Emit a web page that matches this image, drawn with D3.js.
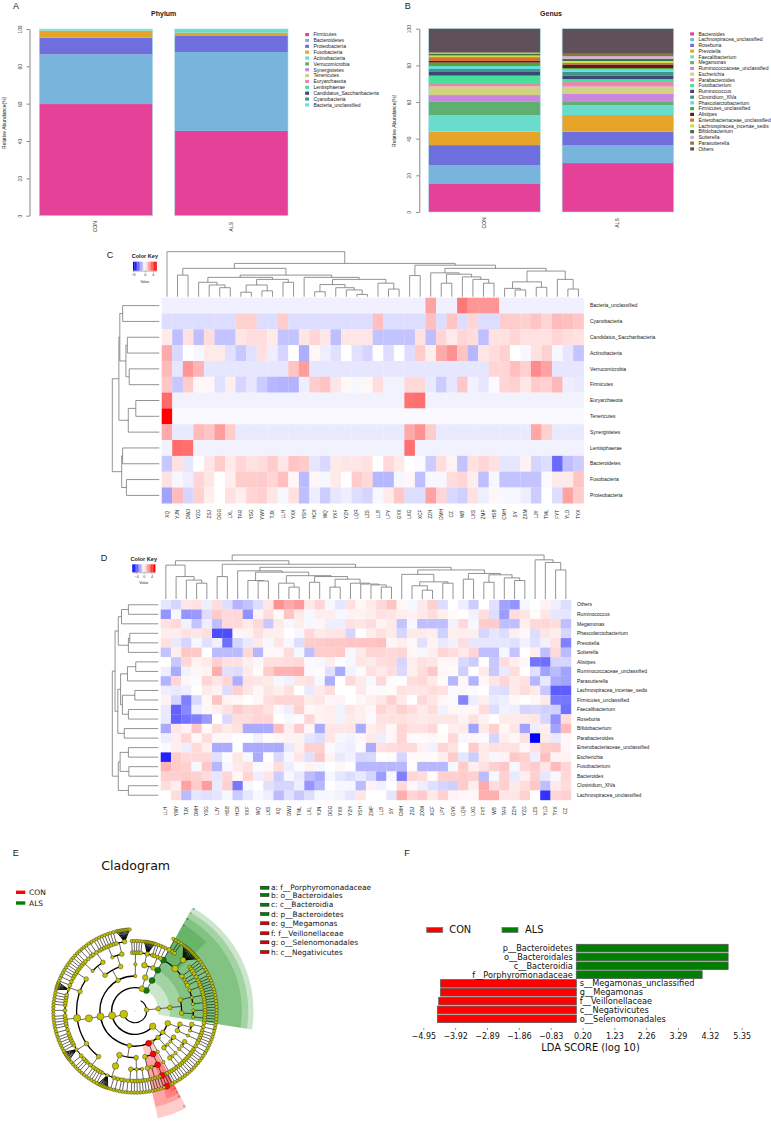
<!DOCTYPE html>
<html>
<head>
  <meta charset="UTF-8">
  <style>
    body { margin: 0; background: #fff; }
    svg { display: block; }
    text { font-family: "Liberation Sans", Arial, sans-serif; fill: #222; }
    .dv text, text.dv { font-family: "DejaVu Sans", sans-serif; fill: #111; }
  </style>
</head>
<body>
<div id="chart"></div>
<script src="https://d3js.org/d3.v7.min.js"></script>
<script>

// ---------- panels A and B: stacked bars ----------
const groups = ["CON", "ALS"];
const phyla = ["Firmicutes", "Bacteroidetes", "Proteobacteria", "Fusobacteria", "Actinobacteria", "Verrucomicrobia", "Synergistetes", "Tenericutes", "Euryarchaeota", "Lentisphaerae", "Candidatus_Saccharibacteria", "Cyanobacteria", "Bacteria_unclassified"];
const phylumCON = [59.8, 26.6, 9.0, 3.7, 0.7, 0.03, 0.03, 0.02, 0.02, 0.02, 0.02, 0.02, 0.04];
const phylumALS = [45.4, 42.3, 8.9, 1.4, 1.9, 0.02, 0.01, 0.01, 0.01, 0.01, 0.02, 0.02, 0.01];
const genera = ["Bacteroides", "Lachnospiracea_unclassified", "Roseburia", "Prevotella", "Faecalibacterium", "Megamonas", "Ruminococcaceae_unclassified", "Escherichia", "Parabacteroides", "Fusobacterium", "Ruminococcus", "Clostridium_XlVa", "Phascolarctobacterium", "Firmicutes_unclassified", "Alistipes", "Enterobacteriaceae_unclassified", "Lachnospiracea_incertae_sedis", "Bifidobacterium", "Sutterella", "Parasutterella", "Others"];
const genusCON = [15.3, 10.3, 10.9, 7.3, 8.9, 7.7, 3.4, 4.7, 1.9, 4.0, 2.0, 1.6, 1.6, 1.9, 0.9, 2.1, 0.9, 0.8, 0.4, 0.5, 13.0];
const genusALS = [26.7, 9.8, 7.3, 9.1, 5.3, 1.8, 4.4, 4.0, 2.5, 1.6, 2.0, 2.0, 1.3, 0.7, 2.0, 0.8, 1.1, 1.2, 1.4, 1.3, 13.7];
const stackColors = ["#e64199", "#78b4dc", "#6e6edc", "#e6a528", "#69dccd", "#5faf73", "#c887dc", "#d2d282", "#e687af", "#46e196", "#3c4678", "#419682", "#5fdce6"];
const genusColors = ["#e64199", "#78b4dc", "#6e6edc", "#e6a528", "#69dccd", "#5faf73", "#c887dc", "#d2d282", "#e687af", "#46e196", "#3c4678", "#419682", "#5fdce6", "#55a532", "#5a1e14", "#dc6e32", "#d2dc46", "#37733c", "#d2afe6", "#8c7832", "#5f505a"];
const abundanceTicks = [0, 20, 40, 60, 80, 100];

// ---------- panels C and D: heatmaps ----------
const colsC = ["XQ", "YJN", "DWJ", "YZG", "ZSJ", "DGG", "LXL", "TAR", "YSG", "YWY", "TJX", "LLH", "YXX", "YSH", "HCX", "WQ", "YXF", "YZH", "LQR", "LZS", "LLB", "LPY", "GYX", "LXG", "XCF", "ZZH", "DMH", "CZ", "WB", "LXS", "ZMP", "HSB", "CMH", "SY", "ZXM", "LJY", "TML", "FYT", "YLD", "TYX"];
const rowsC = ["Bacteria_unclassified", "Cyanobacteria", "Candidatus_Saccharibacteria", "Actinobacteria", "Verrucomicrobia", "Firmicutes", "Euryarchaeota", "Tenericutes", "Synergistetes", "Lentisphaerae", "Bacteroidetes", "Fusobacteria", "Proteobacteria"];
const heatC = [
  [-.35,-.35,-.35,-.35,-.35,-.35,-.35,-.35,-.35,-.35,-.35,-.35,-.35,-.35,-.35,-.35,-.35,-.35,-.35,-.35,-.35,-.35,-.35,-.35,-.35,2.2,-.35,-.35,3.2,2.5,2.5,2.5,-.35,-.35,-.35,-.35,-.35,-.35,-.35,-.35],
  [-.8,-.8,-.8,-.8,-.8,-.8,-.8,1.1,1.1,-.8,-.8,1.2,-.8,-.8,-.8,-.8,-.8,-.8,-.8,-.8,1.5,-.8,-.8,-.8,-.8,1.5,-.8,1.4,-.8,1,-.8,-.8,1.2,1.2,1.1,1.4,1,1.6,1.5,1.3],
  [.5,-1.5,.7,-1.5,.8,-1.4,-1.4,.6,.8,.8,.5,-1.4,-1.4,.6,1,.6,-1.5,.6,.6,.6,-1.4,-1.4,-1.4,-1.4,.7,-1.5,1,.5,1,.8,-1.5,.7,.7,1,.7,.7,.7,1,.8,.7],
  [2,-.9,0,-.2,.5,.5,-.7,-1.3,-.7,.7,-.4,-1,0,-1.9,.2,-.4,-.7,0,-.7,-1,0,-.8,0,-.8,1.2,.4,2,2.6,1.4,-1.7,.6,.8,1.1,0,-.2,.7,1.1,-.2,-.6,-1.4],
  [1.6,-.6,2.5,1.8,-.6,-.6,-.6,-.6,-.6,-.6,-.6,-.6,1.4,2.3,-.6,-.6,-.6,-.6,-.6,-.6,-.6,-.6,-.6,-.6,-.6,-.6,-.6,-.6,-.6,-.6,-.6,1,1,1.5,1.1,2.7,2.2,-.6,-.6,-.6],
  [1.3,-1.3,1.2,.2,.2,-.7,.4,-1,-.6,-1.2,-1.7,-1.8,-1.8,-.4,1.2,1.4,.6,.2,-.2,.2,.8,-.3,-.3,.9,.9,-.5,-1.2,-.6,1.3,-.3,-.6,-.1,1,1.1,.6,1.2,1.1,1.7,-.4,-.5],
  [3.5,-.3,-.3,-.3,-.3,-.3,-.3,-.3,-.3,-.3,-.3,-.3,-.3,-.3,-.3,-.3,-.3,-.3,-.3,-.3,-.3,-.3,-.3,3.3,3.4,-.3,-.3,-.3,-.3,-.3,-.3,-.3,-.3,-.3,-.3,-.3,-.3,-.3,-.3,-.3],
  [6,-.15,-.15,-.15,-.15,-.15,-.15,-.15,-.15,-.15,-.15,-.15,-.15,-.15,-.15,-.15,-.15,-.15,-.15,-.15,-.15,-.15,-.15,-.15,-.15,-.15,-.15,-.15,-.15,-.15,-.15,-.15,-.15,-.15,-.15,-.15,-.15,-.15,-.15,-.15],
  [2,-.5,-.5,1.6,1.4,2.3,1.2,-.5,-.5,-.5,-.5,-.5,-.5,-.5,-.5,-.5,-.5,-.5,-.5,-.5,-.5,-.5,-.5,2,2.6,1.2,-.5,-.5,-.5,-.5,-.5,-.5,-.5,-.5,-.5,2.1,1.1,-.5,-.5,-.5],
  [-.3,3.5,3.4,-.3,-.3,-.3,-.3,-.3,-.3,-.3,-.3,-.3,-.3,-.3,-.3,-.3,-.3,-.3,-.3,-.3,-.3,-.3,-.3,3.4,-.3,-.3,-.3,-.3,-.3,-.3,-.3,-.3,-.3,-.3,-.3,-.3,-.3,-.3,-.3,-.3],
  [-1.3,.7,-.6,0,.6,1.2,.5,1,.7,.8,1.2,.6,1.4,1.2,-.6,-.9,.5,.6,.6,.7,0,.9,.5,0,-.1,-1.2,.8,.3,-1.4,.7,1,.7,-.6,-.6,.3,-1,-.8,-3.5,-1.5,-1.2],
  [.7,-.2,-.4,1,.6,0,.4,1.2,1.2,1.2,1,1.5,.2,-1.6,.2,-.2,.5,0,1.2,.9,-1.7,-1.7,-.2,.2,-1.5,-.2,-.2,.8,1,.4,-1.5,-.2,-1.4,-1.4,-1.4,-1.4,-.1,.5,.5,1.4],
  [-2.2,1.6,-1,1.1,.4,0,.7,.4,1,1.1,.6,-.2,.7,-1.5,-.4,-1.2,-.6,-.4,-.8,-1,-.2,.5,1.3,-.8,-.8,2.2,1,-.9,-1.1,.7,-.4,.2,-.2,-.2,-.4,-1.2,0,-.8,2.2,1.2]
];
// dendrograms: [merge height, left, right], leaves are column names or row indexes
const topTreeC = [100, "XQ", [74,
  [63, [48, "YJN", "DWJ"], [48,
    [43, [32, "YZG", [26, "ZSJ", [20, "DGG", "LXL"]]], [38.5, [26, [10, "TAR", "YSG"], [13, "YWY", "TJX"]], [32, "LLH", "YXX"]]],
    [43, "YSH", [38.5, [27, [11, "HCX", "WQ"], [20, "YXF", [15, "YZH", [5, "LQR", "LZS"]]]], [30, "LLB", [17, "LPY", "GYX"]]]]]],
  [70, [47, "LXG", "XCF"], [63,
    [53, "ZZH", [50, [30, "DMH", "CZ"], [44, "WB", [38.5, "LXS", [30, "ZMP", "HSB"]]]]],
    [57, [33, [18.5, "CMH", [15, "SY", "ZXM"]], [21, "LJY", "TML"]], [38.5, "FYT", [17, "YLD", "TYX"]]]]]]];
const sideTreeC = [100, [86, [84, [78, 0, 1], [71, [68, 2, 3], [64, 4, 5]]], [66, [50, 6, 7], 8]], [80, [78, 9, 10], [70, 11, 12]]];
const keyTicksC = [-6, 0, 4];

const colsD = ["LLH", "YWY", "TJX", "DMH", "YSG", "LJY", "HSB", "HCX", "YXF", "WQ", "LXS", "XQ", "DWJ", "TML", "LXL", "YJN", "DGG", "YXX", "YZH", "YSH", "ZMP", "LLB", "SY", "CMH", "ZSJ", "ZXM", "XCF", "LPY", "GYX", "LQR", "LXG", "FYT", "WB", "TAR", "ZZH", "YZG", "LZS", "YLD", "TYX", "CZ"];
const rowsD = ["Others", "Ruminococcus", "Megamonas", "Phascolarctobacterium", "Prevotella", "Sutterella", "Alistipes", "Ruminococcaceae_unclassified", "Parasutterella", "Lachnospiracea_incertae_sedis", "Firmicutes_unclassified", "Faecalibacterium", "Roseburia", "Bifidobacterium", "Parabacteroides", "Enterobacteriaceae_unclassified", "Escherichia", "Fusobacterium", "Bacteroides", "Clostridium_XlVa", "Lachnospiracea_unclassified"];
const heatD = [
  [-.6,-1,.6,.7,-.4,.8,-.8,-1.8,-1.4,-.8,.6,2.6,2,2.4,.5,1,-.2,-.6,.7,.2,.5,.9,1.4,.2,-.2,.5,1.1,-.8,0,-.4,-1.2,0,-.7,-2.2,-2.5,-.2,0,.3,-.4,-.8],
  [-2.5,-.2,-2.5,-2.4,-.8,1.2,.9,.9,-2.6,.3,.8,.1,1.4,.5,-.2,.4,.4,-.2,.3,.3,.4,.7,.6,.4,.3,.5,.8,.4,.1,0,-.3,.8,-.8,-2.3,.8,.6,.1,.6,-.6,-.6],
  [.7,.9,-.3,-1.4,-.4,-1.5,.9,.9,.5,.9,-1.3,.5,-.2,.4,-.2,.2,-.4,-.4,.7,.6,.8,.3,.5,-1.4,-.2,-1.5,-1.5,-1.5,-.3,.9,-.2,1.2,1.2,-1.5,-1.5,.4,.9,1,.8,-1.5],
  [.4,.4,.7,.6,.8,-4.2,-4.2,.2,.3,.7,.4,.4,0,-.2,.9,.5,.6,.6,-1,0,.4,.7,.5,-1,.5,.5,.4,-1.1,.4,.4,.4,-1,-.6,-.8,.4,.2,-.8,.6,.4,-1],
  [.7,-.5,-1,-.2,-.7,-.3,-3.4,-1,-.5,.5,-.2,.6,-.2,-.8,1.2,1.2,1.3,1.3,1.4,1.4,1.4,1.5,.2,.4,.2,-.7,.3,-.5,-.3,.8,-.6,-.6,-.6,-.6,-.7,-.3,-.7,-.3,.7,-3],
  [-1.4,.4,1.3,1.3,0,-1.6,-1.6,-1.6,.9,-1.7,.2,.2,.8,-.2,-1.5,1.2,1.2,1.3,-.2,.5,1,1,.9,1,.2,-.2,.4,1,.8,.5,1,-1.5,-1.5,-.2,-1.4,0,.4,-1.5,.9,-1.6],
  [0,-1.3,1,.3,.5,1.1,.7,.7,.4,.2,.7,.7,.8,.9,-.1,-.2,.4,0,-.2,.6,.5,.8,.9,-1,.4,.7,.6,.2,.2,-.9,-1.2,0,-1.3,.8,.4,.2,-3.3,-3.4,-1,-1],
  [-.4,-2,-.3,.2,.3,1.9,-.7,-.8,.5,.1,1.2,1.8,1.8,1.9,-.1,.1,-.7,-2,-.3,-.1,.7,.5,.8,-.9,.4,.8,1.3,.2,.1,-1.1,0,.5,-1.3,-.5,.8,0,-.7,-2.2,-1.6,-2.2],
  [-1.8,1,.2,-.1,1,.6,1,-1.9,.7,.6,.5,-.2,-.3,.6,.7,-.2,-1.9,0,.9,.5,-.2,.9,.1,0,.8,.9,.5,.1,-1.7,.2,-1.8,.2,.6,1,.5,.7,-1.7,-.5,-2,-2.2],
  [-.4,-.5,-.4,0,.5,.3,-.8,1.1,.6,.2,.6,.4,.7,0,-.5,.5,.8,0,0,.5,.1,-.1,.1,.7,.6,.6,.8,.7,-.1,.2,-.1,0,-.7,-.8,.5,.8,.5,-1.3,-3.8,-3.8],
  [.3,-1,-3,-.9,.2,1.4,.3,.2,0,.2,.8,1,1,1,.5,.6,.2,.3,0,.2,.4,.6,1.1,.5,0,.9,.6,.2,-.1,-2.9,-.4,.4,-.5,-.4,.2,0,.2,.5,-3.2,-3.2],
  [-.5,-3.7,-2.8,-.4,.2,.4,.7,1.2,.9,1,.7,.2,-.4,1.1,.2,.3,.4,-.3,.6,.4,.2,1,.7,1.1,.8,.5,.8,-.3,.2,.2,.2,.8,-.8,-.3,-.4,-1,-.9,-1.1,-1.1,-3.4],
  [-.5,-3.7,-3.3,-3,-2.4,0,-.9,.8,.8,1,1,0,-.2,-.1,1,.3,.4,-.3,.5,.4,-.1,.7,.7,.7,.6,.5,.6,.6,.6,.3,.7,.3,0,.5,.5,.5,.6,-1,-2.6,.8],
  [-2,.6,.3,1.3,.1,.8,.5,.7,-2,-2,-2,1.5,.4,1.2,.2,-2,.6,.6,.6,-2,.4,.6,.2,1,.7,.7,.9,0,.4,.5,-2.2,.5,1.1,.2,.6,-2.2,-.4,.4,-2.2,1.6],
  [-.4,.4,1,.2,.8,.2,.2,0,0,-.3,.1,.2,.3,.3,-.6,-.8,.6,-.2,-.3,.2,.5,-.4,.2,1,.1,.1,.2,.1,.9,-.2,.2,-.1,-1,.4,.2,.7,-6,.5,-.5,.2],
  [-.1,.4,-.4,.9,.4,-2,-2,0,-2,-2,-2,-2,-.5,.4,1.1,1.1,-.1,-.3,-.4,-.1,-2,.7,.8,.9,.9,.3,-.3,1,.7,0,1.2,.5,.7,.7,.7,.2,.7,1.2,1.3,.2],
  [-5.2,1.2,.9,.9,.9,-.7,.1,.6,-.2,-2,0,-.9,-.2,.6,-.7,1.3,.3,-.5,-.3,-1,-.9,0,.1,-1,.1,.1,.1,.4,1.2,-.6,-1.2,.5,-.2,.3,1.3,1.1,-.4,1.5,.3,.3],
  [1.8,1.2,1.1,-.2,1.3,-1.7,-.2,.5,.7,-.1,.2,.8,-.4,-.1,.3,-.2,0,.2,0,-1.7,-1.7,-1.7,-1.7,-1.7,.1,-1.7,-1.7,-1.7,-.2,1.2,.4,.7,1.1,1.3,-.2,1,1.2,.6,1.6,1],
  [1.1,1.1,1.2,1.1,.8,-.6,1,.2,1,-.4,.6,-1.2,-.2,-.5,-1.6,-2,-.2,-.6,-.8,-.5,-1,-2.3,-.2,-3,1,.8,.1,1.1,1.1,1.2,1.1,-1.6,-.2,1.1,-.5,.4,1.1,-.6,-.2,.9],
  [.8,.4,2.2,1.2,2.3,-.5,1.1,-3.2,-.2,0,-.7,-1,-1,-.4,-2.5,-1.7,0,-.2,-.2,-1.6,.3,-.3,0,.9,.2,-.4,-.7,-1,-1.1,1.2,.4,2,.8,1.1,.5,.8,1.3,-1.5,.5,.8],
  [0,.8,-1.6,-.6,-.7,-.6,-.2,-1.2,-.6,-.2,-.4,-1.6,-.7,-1.3,-.8,-.2,-.2,-.3,-.6,.6,0,0,-.6,1.9,1,1.2,.5,1.1,.3,.2,.2,1.9,1.9,.6,.6,1.1,0,-4.8,1,1.1]
];
const topTreeD = [100,
  [87, [77, "LLH", [51, "YWY", [43, "TJX", [36, "DMH", "YSG"]]]], [79, [51, "LJY", "HSB"], [72,
    [64, "HCX", [61, [42, "YXF", [41, "WQ", "LXS"]], [53, [36, "XQ", [27, "DWJ", "TML"]], [51, [38, "LXL", "YJN"], [45, [27, "DGG", "YXX"], [36, "YZH", [34, "YSH", [32, "ZMP", [27, "LLB", "SY"]]]]]]]]],
    [66, [56, "CMH", [39, [30, "ZSJ", [20, "ZXM", "XCF"]], [36, "LPY", "GYX"]]], [58, [45, "LQR", "LXG"], [55, [38, "FYT", "WB"], [48, "TAR", [42, "ZZH", "YZG"]]]]]]]],
  [89, "LZS", [83, "YLD", [66, "TYX", "CZ"]]]];
const sideTreeD = [100, [94, [87, [80, [65, 0, 1], 2], [65, [62, 3, 4], 5]], [88, [82, [67, [49, 6, 7], 8], [78, [51, 9, 10], [65, 11, 12]]], [74, 13, 14]]], [87, [83, [65, 15, 16], [64, 17, 18]], [65, 19, 20]]];
const keyTicksD = [-4, 0, 4];
const keySteps = [-6, -5.2, -4.4, -3.6, -2.8, -2, -1.2, -.4, .4, 1.2, 2, 2.8, 3.6, 4.4, 5.2, 6];

// ---------- panel E: cladogram ----------
// a node is [size, ...children], a bare number is a terminal node of that size
// tags: "g" ALS marker, "r" CON marker, "x" undrawn node, "t" fan of tight terminals [ "t", size, count ]
const g1 = [1.4, 1], g2 = [1.4, 1, 1], g3 = [1.4, 1, 1, 1];
const bacteroidales = ["g", 4, ["g", 3, [2, 1, 1], g1, g1], [4, ["t", 3, 14]], [2, g1, g1, [2, 1]], [1, g1], [1, g2], [2, g1]];
const bacteroidetes = ["x", 0, ["g", 4, ["g", 4, bacteroidales]]];
const sidePhylum = [2, [2, [2, [2, [1, g1, g1, g1, g1], [1, g1, g1, g1], [1, g1, g1, g1]], [2, [1, g1, g1, g1], [1, g1, g1, g1]]]]];
const proteobacteria = [4,
  [3, [2, [2, g1, g2, g1], [1, g1, g1]], [2, [1, g1, g1, g1]]],
  [2, [2, [2, g2, g1], [1, g1, g1]], [1, [1, g1, g1]]],
  [2, [1, [1, g1, g1, g1]], [2, [1, g1], [2, g1, g1]]],
  [1, [1, [1, g1, g1, g1, g1, g1]]]];
const negativicutes = ["r", 4, ["r", 4, ["r", 3, ["r", 3, ["r", 3]], [1, 1], [1, 1]], [1, [1, 1]]], [2, [2, [1, 1], [1, 1], [1, 1]]]];
const bacilli = [2, [2, [1, g1, g1], [1, g1, g1, g1], [2, g1, g2]], [3, [4, g1, g1, g2, g1, ["t", 1, 8], g1, g1]]];
const clostridia = [5, [5,
  [2, g1, g1, g1, g2, g1, g1],
  [2, g1, g2, ["t", 1, 7], g1, g1, g1],
  [5, g1, g1, g1, g2, g1, g1, g1, g1, g1, g3, g1, g1, g1],
  [2, g1, g1, ["t", 1, 6], g1, g2, g1],
  [2, g1, g1, g1, g1]]];
const topLeft = [2, [2, [1, g1, g1, g1, g1, g2], [2, g1, g1, g2, g1, g1]], [2, [1, g1, g1, g1, g1], [2, g1, g1, ["t", 2, 10]]]];
const firmicutes = [5, negativicutes, bacilli, clostridia, topLeft, [1, [1, g1, g1, g1, g1]]];
const topPhylum = [3, [3, [3, g1, ["t", 2, 9], g1], [2, g1, g2, g1]]];
const cladeTree = [1, bacteroidetes, sidePhylum, [6, proteobacteria, firmicutes, topPhylum]];
const cladeStart = 62;
// marker shading: [colour, from angle, to angle, inner level, outer level, letter]
const shades = [
  ["#008000", 61, -9, 2, 10.15, "d"], ["#008000", 61, -9, 3, 9.7, "c"], ["#008000", 61, -9, 4, 9.15, "b"], ["#008000", 61, 44, 5, 8.5, "a"],
  ["#ff0000", -62, -78, 3, 9.4, "h"], ["#ff0000", -62, -78, 4, 8.4, "g"], ["#ff0000", -62, -70, 5, 8, "f"], ["#ff0000", -62, -66, 6, 7.6, "e"]
];
const cladeKeys = [["a: f__Porphyromonadaceae", "#008000"], ["b: o__Bacteroidales", "#008000"], ["c: c__Bacteroidia", "#008000"], ["d: p__Bacteroidetes", "#008000"], ["e: g__Megamonas", "#e00000"], ["f: f__Veillonellaceae", "#e00000"], ["g: o__Selenomonadales", "#e00000"], ["h: c__Negativicutes", "#e00000"]];
const cladeKeyY = [887.7, 895, 904.7, 914, 923.3, 933.3, 942.3, 952];

// ---------- panel F: LDA bars ----------
const ldaNames = ["p__Bacteroidetes", "o__Bacteroidales", "c__Bacteroidia", "f__Porphyromonadaceae", "s__Megamonas_unclassified", "g__Megamonas", "f__Veillonellaceae", "c__Negativicutes", "o__Selenomonadales"];
const ldaScores = [4.91, 4.91, 4.91, 4.07, -4.39, -4.39, -4.45, -4.49, -4.49];
const ldaTicks = [-4.95, -3.92, -2.89, -1.86, -0.83, 0.2, 1.23, 2.26, 3.29, 4.32, 5.35];

let width = 771, height = 1122;
let svg = d3.select("#chart").append("svg").attr("width", width).attr("height", height).attr("viewBox", [0, 0, width, height]);

function panelLetter(t, x, y) {
  svg.append("text").attr("x", x).attr("y", y).attr("text-anchor", "middle").attr("font-size", 9).text(t);
}
panelLetter("A", 16, 9);
panelLetter("B", 407.7, 9);
panelLetter("C", 110, 258);
panelLetter("D", 104, 561);
panelLetter("E", 15.7, 856);
panelLetter("F", 407, 856);

function stackedPanel(o) {
  let g = svg.append("g");
  let y = d3.scaleLinear().domain([0, 100]).range([o.y0, o.y1]);
  let x = d3.scaleBand().domain(groups).range([o.xa, o.xb]).paddingInner(0.164).paddingOuter(0);
  let rows = groups.map((gr, i) => {
    let r = {group: gr};
    o.names.forEach((n, j) => r[n] = o.values[i][j]);
    return r;
  });
  let series = d3.stack().keys(o.names)(rows);
  g.selectAll("g.s").data(series).enter().append("g").attr("class", "s").attr("fill", (d, i) => o.colors[i])
    .selectAll("rect").data(d => d).enter().append("rect")
      .attr("x", d => x(d.data.group)).attr("width", x.bandwidth())
      .attr("y", d => y(d[1])).attr("height", d => y(d[0]) - y(d[1]));
  // pale edge round each bar
  g.selectAll("rect.edge").data(groups).enter().append("rect")
    .attr("x", d => x(d)).attr("width", x.bandwidth()).attr("y", y(100)).attr("height", y(0) - y(100))
    .attr("fill", "none").attr("stroke", "#a8dbe8").attr("stroke-width", 0.6);
  let axis = g.append("g").attr("transform", "translate(" + o.axisX + ",0)")
    .call(d3.axisLeft(y).tickValues(abundanceTicks).tickSize(3).tickSizeOuter(0).tickFormat(d3.format("d")));
  axis.selectAll("path,line").attr("stroke", "#777").attr("stroke-width", 0.9);
  axis.selectAll("text").attr("font-size", 4.8).attr("font-family", null)
    .attr("transform", "rotate(-90)").attr("x", 0).attr("y", -8).attr("dy", 0).attr("text-anchor", "middle").style("fill", "#444");
  g.append("text").attr("transform", "translate(" + o.titleX + "," + ((o.y0 + o.y1) / 2 + 0.5) + ") rotate(-90)")
    .attr("text-anchor", "middle").attr("font-size", 5).text("Relative Abundance(%)");
  g.append("text").attr("x", o.headX).attr("y", 16).attr("text-anchor", "middle").attr("font-size", 7).attr("font-weight", "bold").text(o.head);
  g.selectAll("text.grp").data(groups).enter().append("text").attr("class", "grp")
    .attr("transform", d => "translate(" + (x(d) + x.bandwidth() / 2 + 1.5) + "," + o.labelY + ") rotate(-90)")
    .attr("text-anchor", "middle").attr("font-size", 5).text(d => d);
  let ly = d3.scalePoint().domain(o.names).range(o.legendY);
  let lg = g.selectAll("g.lg").data(o.names).enter().append("g").attr("class", "lg");
  lg.append("rect").attr("x", o.legendX).attr("y", d => ly(d) - 1.7).attr("width", 3.8).attr("height", 3.2).attr("fill", (d, i) => o.colors[i]);
  lg.append("text").attr("x", o.legendX + 8.2).attr("y", d => ly(d) + 1.7).attr("font-size", 5).text(d => d);
}
stackedPanel({names: phyla, values: [phylumCON, phylumALS], colors: stackColors, y0: 215.7, y1: 29, xa: 39.3, xb: 288, axisX: 29.5, titleX: 6, headX: 163.7, head: "Phylum", labelY: 226.7, legendX: 305.2, legendY: [34.7, 105]});
stackedPanel({names: genera, values: [genusCON, genusALS], colors: genusColors, y0: 212, y1: 28.7, xa: 428.7, xb: 673.7, axisX: 419.3, titleX: 396, headX: 551, head: "Genus", labelY: 223, legendX: 690.2, legendY: [34, 149]});

function drawTree(g, tree, leafPos, hScale, horizontal) {
  // horizontal=false: leaves along x (top tree), true: leaves along y (side tree)
  function seg(p, h1, h2) {
    let a = hScale(h1), b = hScale(h2);
    let pts = horizontal ? [[a, p], [b, p]] : [[p, a], [p, b]];
    g.append("path").attr("d", d3.line()(pts));
  }
  function walk(n) {
    if (!Array.isArray(n)) return {p: leafPos(n), h: 0};
    let l = walk(n[1]), r = walk(n[2]);
    seg(l.p, l.h, n[0]);
    seg(r.p, r.h, n[0]);
    let pts = horizontal ? [[hScale(n[0]), l.p], [hScale(n[0]), r.p]] : [[l.p, hScale(n[0])], [r.p, hScale(n[0])]];
    g.append("path").attr("d", d3.line()(pts));
    return {p: (l.p + r.p) / 2, h: n[0]};
  }
  walk(tree);
}

function heatPanel(o) {
  let g = svg.append("g");
  let x = d3.scaleBand().domain(o.cols).range(o.xr);
  let y = d3.scaleBand().domain(o.rows).range(o.yr);
  let color = d3.scaleLinear().domain([-6, 0, 6]).range(["#0000ff", "#ffffff", "#ff0000"]);
  let cells = [];
  o.values.forEach((row, i) => row.forEach((v, j) => cells.push({r: o.rows[i], c: o.cols[j], v: v})));
  g.selectAll("rect.cell").data(cells).enter().append("rect").attr("class", "cell")
    .attr("x", d => x(d.c)).attr("y", d => y(d.r))
    .attr("width", x.bandwidth() + 0.2).attr("height", y.bandwidth() + 0.2)
    .attr("fill", d => color(d.v));
  g.selectAll("text.row").data(o.rows).enter().append("text").attr("class", "row")
    .attr("x", o.rowX).attr("y", d => y(d) + y.bandwidth() / 2 + 1.7).attr("font-size", 5).text(d => d);
  g.selectAll("text.col").data(o.cols).enter().append("text").attr("class", "col")
    .attr("transform", d => "translate(" + (x(d) + x.bandwidth() / 2 + 1.6) + "," + o.colY + ") rotate(-90)")
    .attr("text-anchor", "middle").attr("font-size", 4.7).text(d => d);
  let tg = g.append("g").attr("fill", "none").attr("stroke", "#777").attr("stroke-width", 0.8);
  drawTree(tg, o.topTree, d => x(d) + x.bandwidth() / 2, d3.scaleLinear().domain([0, 100]).range(o.topRange), false);
  let sg = g.append("g").attr("fill", "none").attr("stroke", "#777").attr("stroke-width", 0.8);
  drawTree(sg, o.sideTree, d => y(o.rows[d]) + y.bandwidth() / 2, d3.scaleLinear().domain([0, 100]).range(o.sideRange), true);

  // colour key
  let kx = d3.scaleLinear().domain([-6, 6]).range(o.keyX);
  let kw = (o.keyX[1] - o.keyX[0]) / keySteps.length;
  g.selectAll("rect.key").data(keySteps).enter().append("rect").attr("class", "key")
    .attr("x", (d, i) => o.keyX[0] + i * kw).attr("y", o.keyY[0]).attr("width", kw + 0.1).attr("height", o.keyY[1] - o.keyY[0])
    .attr("fill", d => color(d));
  let ka = g.append("g").attr("transform", "translate(0," + o.keyY[1] + ")")
    .call(d3.axisBottom(kx).tickValues(o.keyTicks).tickSize(1.6).tickSizeOuter(0));
  ka.select(".domain").attr("stroke", "#666").attr("stroke-width", 0.4);
  ka.selectAll("line").attr("stroke", "#666").attr("stroke-width", 0.4);
  ka.selectAll("text").attr("font-size", 3.6).attr("font-family", null).attr("y", 3).style("fill", "#333");
  g.append("text").attr("x", (o.keyX[0] + o.keyX[1]) / 2).attr("y", o.keyY[0] - 3.4).attr("text-anchor", "middle").attr("font-size", 5.6).attr("font-weight", "bold").text("Color Key");
  g.append("text").attr("x", (o.keyX[0] + o.keyX[1]) / 2).attr("y", o.keyY[1] + 12).attr("text-anchor", "middle").attr("font-size", 3.6).text("Value");
}
heatPanel({cols: colsC, rows: rowsC, values: heatC, xr: [161.7, 583.7], yr: [297.7, 503.3], rowX: 590, colY: 514.3,
  topTree: topTreeC, sideTree: sideTreeC, topRange: [296.7, 251.7], sideRange: [159.3, 112.3], keyX: [133, 156.7], keyY: [261.7, 270.7], keyTicks: keyTicksC});
heatPanel({cols: colsD, rows: rowsD, values: heatD, xr: [160.7, 571], yr: [600, 800], rowX: 577, colY: 811,
  topTree: topTreeD, sideTree: sideTreeD, topRange: [599, 555], sideRange: [158.3, 112.3], keyX: [132.3, 155.3], keyY: [564.3, 572.3], keyTicks: keyTicksD});

// ---------- cladogram ----------
function parseClade(lit) {
  if (typeof lit === "number") return {size: lit, children: []};
  let i = 0, tag = null;
  if (typeof lit[0] === "string") { tag = lit[0]; i = 1; }
  if (tag === "t") return {tag: tag, size: lit[1], children: d3.range(lit[2]).map(() => ({size: 1, tight: true, children: []}))};
  return {tag: tag, size: lit[i], children: lit.slice(i + 1).map(parseClade)};
}
let clade = d3.hierarchy(parseClade(cladeTree), d => d.children);
let level = d3.scaleLinear().domain([0, 7]).range([0, 81.7]);
let dotR = d3.scaleSqrt().domain([1, 6]).range([1.7, 3.9]);
let cx = 135, cy = 1011;
let total = 0;
clade.leaves().forEach(l => { l.w = total; total += l.data.tight ? 0.5 : 1; });
let angle = d3.scaleLinear().domain([0, total]).range([cladeStart, cladeStart - 360]);
clade.eachAfter(n => {
  if (!n.children) n.ang = angle(n.w);
  else if (n.data.tag === "g" || n.data.tag === "r") n.ang = n.children[0].ang;
  else n.ang = (n.children[0].ang + n.children[n.children.length - 1].ang) / 2;
});
function polar(a, r) {
  let t = a * Math.PI / 180;
  return [cx + r * Math.cos(t), cy - r * Math.sin(t)];
}
let eg = svg.append("g").attr("class", "dv");
let shadeArc = d3.arc();
eg.selectAll("path.shade").data(shades).enter().append("path").attr("class", "shade")
  .attr("transform", "translate(" + cx + "," + cy + ")")
  .attr("d", d => shadeArc({innerRadius: level(d[3]), outerRadius: level(d[4]), startAngle: (90 - d[1]) * Math.PI / 180, endAngle: (90 - d[2]) * Math.PI / 180}))
  .attr("fill", d => d[0]).attr("fill-opacity", 0.2);
// tiny marker letters at the end of each shading
eg.selectAll("text.mark").data(shades).enter().append("text").attr("class", "mark")
  .attr("x", d => polar(d[1] - 1, level(d[4]) - 1.5)[0]).attr("y", d => polar(d[1] - 1, level(d[4]) - 1.5)[1])
  .attr("text-anchor", "middle").attr("font-size", 2.6).text(d => d[5]);

let links = eg.append("g").attr("stroke", "#000").attr("fill", "none");
let arcW = d3.scaleOrdinal().domain([0, 1, 2, 3, 4, 5, 6, 7]).range([0, 1.2, 1.4, 1.4, 1.2, 1.3, 0.8, 0.5]);
clade.descendants().forEach(n => {
  if (!n.children || n.data.tag === "x") return;
  if (n.data.tag === "t") {
    n.children.forEach(c => links.append("path").attr("stroke-width", 0.9).attr("d", d3.line()([polar(n.ang, level(n.depth)), polar(c.ang, level(c.depth))])));
    return;
  }
  let r = level(n.depth + 1);
  if (n.depth > 0) links.append("path").attr("stroke-width", 0.6).attr("d", d3.line()([polar(n.ang, level(n.depth)), polar(n.ang, r)]));
  if (n.children.length > 1) {
    links.append("path").attr("stroke-width", arcW(n.depth + 1))
      .attr("transform", "translate(" + cx + "," + cy + ")")
      .attr("d", d3.arc()({innerRadius: r, outerRadius: r, startAngle: (90 - n.children[0].ang) * Math.PI / 180, endAngle: (90 - n.children[n.children.length - 1].ang) * Math.PI / 180}));
  }
});
let fillOf = d => d.data.tag === "g" ? "#0a7d0a" : d.data.tag === "r" ? "#ff0000" : "#c4c400";
eg.selectAll("circle.node").data(clade.descendants().filter(d => d.depth > 0 && d.data.tag !== "x")).enter().append("circle").attr("class", "node")
  .attr("cx", d => polar(d.ang, level(d.depth))[0]).attr("cy", d => polar(d.ang, level(d.depth))[1])
  .attr("r", d => d.data.tag === "g" || d.data.tag === "r" ? 3 : dotR(d.data.size))
  .attr("fill", fillOf).attr("stroke", "#222").attr("stroke-width", 0.4);
eg.append("circle").attr("cx", cx).attr("cy", cy).attr("r", 0.6).attr("fill", "#c4c400");

eg.append("text").attr("x", 135.7).attr("y", 870).attr("text-anchor", "middle").attr("font-size", 12.6).text("Cladogram");
let conAls = [["CON", "#ff0000", 892.3], ["ALS", "#008000", 903]];
conAls.forEach(d => {
  eg.append("rect").attr("x", 16).attr("y", d[2] - 1.7).attr("width", 9.3).attr("height", 3.4).attr("fill", d[1]);
  eg.append("text").attr("x", 29).attr("y", d[2] + 2.6).attr("font-size", 7.5).text(d[0]);
});
cladeKeys.forEach((d, i) => {
  eg.append("rect").attr("x", 260.5).attr("y", cladeKeyY[i] - 1.5).attr("width", 8.5).attr("height", 3).attr("fill", d[1]).attr("stroke", "#111").attr("stroke-width", 0.5);
  eg.append("text").attr("x", 271).attr("y", cladeKeyY[i] + 2.6).attr("font-size", 7.4).text(d[0]);
});

// ---------- LDA bars ----------
let fg = svg.append("g").attr("class", "dv");
let lx = d3.scaleLinear().domain([-4.95, 5.35]).range([423.3, 741.7]);
let ly = d3.scaleBand().domain(ldaNames).range([943.7, 1023.2]).paddingInner(0.14).paddingOuter(0.07);
fg.selectAll("rect.lda").data(ldaNames).enter().append("rect").attr("class", "lda")
  .attr("x", (d, i) => Math.min(lx(0), lx(ldaScores[i]))).attr("width", (d, i) => Math.abs(lx(ldaScores[i]) - lx(0)))
  .attr("y", d => ly(d)).attr("height", ly.bandwidth())
  .attr("fill", (d, i) => ldaScores[i] > 0 ? "#008000" : "#ff0000").attr("stroke", "#555").attr("stroke-width", 0.8);
fg.selectAll("text.lda").data(ldaNames).enter().append("text").attr("class", "lda")
  .attr("x", (d, i) => lx(0) + (ldaScores[i] > 0 ? -3.5 : 3.5)).attr("y", d => ly(d) + ly.bandwidth() / 2 + 2.9)
  .attr("text-anchor", (d, i) => ldaScores[i] > 0 ? "end" : "start").attr("font-size", 8.2).text(d => d);
let lax = fg.append("g").attr("transform", "translate(0,1028)")
  .call(d3.axisBottom(lx).tickValues(ldaTicks).tickSize(1.8).tickSizeOuter(0).tickFormat(d3.format(".2f")));
lax.select(".domain").remove();
lax.selectAll("line").attr("stroke", "#333").attr("stroke-width", 0.6);
lax.selectAll("text").attr("font-size", 8).attr("font-family", null).attr("y", 5);
fg.append("text").attr("x", 590.5).attr("y", 1051).attr("text-anchor", "middle").attr("font-size", 9.9).text("LDA SCORE (log 10)");
let ldaKey = [["CON", "#ff0000", 426.7, 449.3], ["ALS", "#008000", 502, 525]];
ldaKey.forEach(d => {
  fg.append("rect").attr("x", d[2]).attr("y", 927.5).attr("width", 16).attr("height", 5).attr("fill", d[1]).attr("stroke", "#777").attr("stroke-width", 0.8);
  fg.append("text").attr("x", d[3]).attr("y", 933).attr("font-size", 9.8).text(d[0]);
});
</script>
</body>
</html>
